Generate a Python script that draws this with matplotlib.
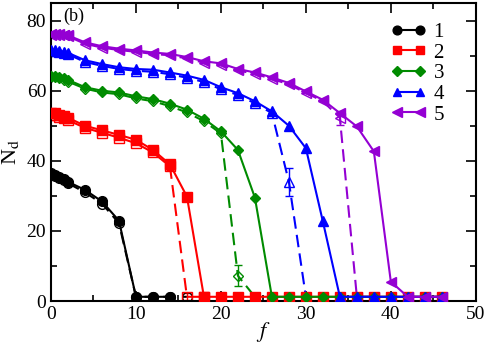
import matplotlib
matplotlib.use("Agg")
import matplotlib.pyplot as plt
from matplotlib.ticker import MultipleLocator

plt.rcParams['font.family'] = ['Liberation Serif', 'DejaVu Serif']
plt.rcParams['mathtext.fontset'] = 'stix'

# series 1 (black)
f1 = [0, 0.5, 1, 1.5, 2, 4, 6, 8, 10, 12, 14]
n1 = [36.4, 36.0, 35.4, 34.8, 34.0, 31.7, 28.4, 22.9, 1.2, 1.2, 1.2]
f1d = [0, 0.5, 1, 1.5, 2, 4, 6, 8, 10, 12, 14, 16]
n1d = [36.0, 35.6, 35.0, 34.4, 33.6, 31.0, 27.8, 22.2, 1.2, 1.2, 1.2, 1.2]

# series 2 (red)
f2 = [0, 0.5, 1, 1.5, 2, 4, 6, 8, 10, 12, 14, 16, 18, 20, 22, 24, 26, 28, 30,
      32, 34, 36, 38, 40, 42, 44, 46]
n2 = [53.6, 53.5, 53.2, 52.8, 52.3, 50.0, 48.7, 47.4, 46.0, 43.1, 39.0, 29.8,
      1.2, 1.2, 1.2, 1.2, 1.2, 1.2, 1.2, 1.2, 1.2, 1.2, 1.2, 1.2, 1.2, 1.2, 1.2]
f2d = [0, 0.5, 1, 1.5, 2, 4, 6, 8, 10, 12, 14, 16, 18]
n2d = [53.2, 53.0, 52.6, 52.2, 51.6, 49.4, 48.0, 46.6, 45.0, 42.4, 38.4, 1.2, 1.2]
e2d = [0, 0, 0, 0, 0, 0, 0, 0, 0, 0, 1.0, 1.0, 0]

# series 3 (green)
f3 = [0, 0.5, 1, 1.5, 2, 4, 6, 8, 10, 12, 14, 16, 18, 20, 22, 24, 26, 28, 30,
      32, 34, 36, 38, 40, 42, 44, 46]
n3 = [64.3, 64.2, 63.9, 63.5, 63.1, 61.0, 60.0, 59.5, 58.4, 57.6, 56.3, 54.6,
      52.0, 48.4, 43.1, 29.5, 1.2, 1.2, 1.2, 1.2, 1.2, 1.2, 1.2, 1.2, 1.2, 1.2, 1.2]
f3d = [0, 0.5, 1, 1.5, 2, 4, 6, 8, 10, 12, 14, 16, 18, 20, 22, 24]
n3d = [64.0, 63.8, 63.5, 63.1, 62.6, 60.6, 59.5, 59.0, 57.8, 57.0, 55.6, 53.8,
       51.3, 47.8, 7.2, 1.2]
e3d = [0, 0, 0, 0, 0, 0, 0, 0, 0, 0, 0, 0, 0, 0, 3.0, 0]

# series 4 (blue)
f4 = [0, 0.5, 1, 1.5, 2, 4, 6, 8, 10, 12, 14, 16, 18, 20, 22, 24, 26, 28, 30,
      32, 34, 36, 38, 40, 42, 44, 46]
n4 = [71.7, 71.6, 71.4, 71.1, 70.8, 68.7, 67.6, 66.7, 66.2, 66.0, 65.2, 64.3,
      63.1, 61.0, 59.3, 57.0, 54.1, 50.0, 43.6, 22.7, 1.2, 1.2, 1.2, 1.2, 1.2, 1.2, 1.2]
f4d = [0, 0.5, 1, 1.5, 2, 4, 6, 8, 10, 12, 14, 16, 18, 20, 22, 24, 26, 28, 30]
n4d = [71.4, 71.3, 71.1, 70.8, 70.4, 68.2, 67.1, 66.2, 65.7, 65.4, 64.7, 63.7,
       62.5, 60.4, 58.8, 56.4, 53.6, 34.0, 1.2]
e4d = [0, 0, 0, 0, 0, 0, 0, 0, 0, 0, 0, 0, 0, 0, 0, 0, 0, 4.0, 0]

# series 5 (purple)
f5 = [0, 0.5, 1, 1.5, 2, 4, 6, 8, 10, 12, 14, 16, 18, 20, 22, 24, 26, 28, 30,
      32, 34, 36, 38, 40, 42, 44, 46]
n5 = [76.2, 76.2, 76.1, 76.0, 75.8, 73.8, 72.7, 72.0, 71.5, 70.9, 70.5, 69.6,
      68.4, 67.8, 66.2, 65.2, 63.8, 62.2, 59.8, 57.4, 53.6, 49.8, 42.7, 5.5,
      1.2, 1.2, 1.2]
f5d = [0, 0.5, 1, 1.5, 2, 4, 6, 8, 10, 12, 14, 16, 18, 20, 22, 24, 26, 28, 30,
       32, 34, 36, 38]
n5d = [76.0, 76.0, 75.9, 75.8, 75.5, 73.4, 72.3, 71.6, 71.1, 70.5, 70.1, 69.2,
       68.0, 67.4, 65.8, 64.8, 63.4, 61.8, 59.4, 57.0, 52.3, 1.2, 1.2]
e5d = [0] * 20 + [2.0, 0, 0]

labels = ["1", "2", "3", "4", "5"]
colors = ["black", "#ff0000", "#008b00", "#0000ff", "#9400d3"]
markers = ["o", "s", "D", "^", "<"]
sizes = [7, 6.5, 5.5, 7, 7.5]

solid = [(f1, n1), (f2, n2), (f3, n3), (f4, n4), (f5, n5)]
dashed = [(f1d, n1d, None), (f2d, n2d, e2d), (f3d, n3d, e3d),
          (f4d, n4d, e4d), (f5d, n5d, e5d)]

fig = plt.figure(figsize=(4.88, 3.44), dpi=100)
ax = fig.add_axes([0.1045, 0.125, 0.8705, 0.866])

for i in range(5):
    fd, nd, ed = dashed[i]
    ax.errorbar(fd, nd, yerr=ed, color=colors[i], ls="--", lw=1.5,
                marker=markers[i], ms=sizes[i], mfc="none", mew=1.0,
                capsize=3, elinewidth=1.0, dashes=(6, 3), zorder=2)
for i in range(5):
    fs, ns = solid[i]
    ax.plot(fs, ns, color=colors[i], ls="-", lw=1.5, marker=markers[i],
            ms=sizes[i], label=labels[i], zorder=3)

ax.set_xlim(0, 50)
ax.set_ylim(0, 85)
ax.xaxis.set_major_locator(MultipleLocator(10))
ax.xaxis.set_minor_locator(MultipleLocator(5))
ax.yaxis.set_major_locator(MultipleLocator(20))
ax.yaxis.set_minor_locator(MultipleLocator(10))
ax.tick_params(which="both", direction="in", top=True, right=True,
               labelsize=14, width=1.2)
ax.tick_params(which="major", length=7)
ax.tick_params(which="minor", length=4)
for s in ax.spines.values():
    s.set_linewidth(1.5)

ax.set_xlabel("$f$", fontsize=16, labelpad=-2)
ax.set_ylabel(r"N$_\mathrm{d}$", fontsize=16, labelpad=4)
ax.text(0.03, 0.985, "(b)", transform=ax.transAxes, fontsize=13,
        va="top", ha="left")

ax.legend(loc="upper left", bbox_to_anchor=(0.80, 0.935), frameon=False,
          fontsize=15, numpoints=2, handlelength=1.7, handletextpad=0.35,
          labelspacing=0.05, borderpad=0.0, borderaxespad=0.0,
          markerscale=0.9)

fig.savefig("out.png", dpi=100)
